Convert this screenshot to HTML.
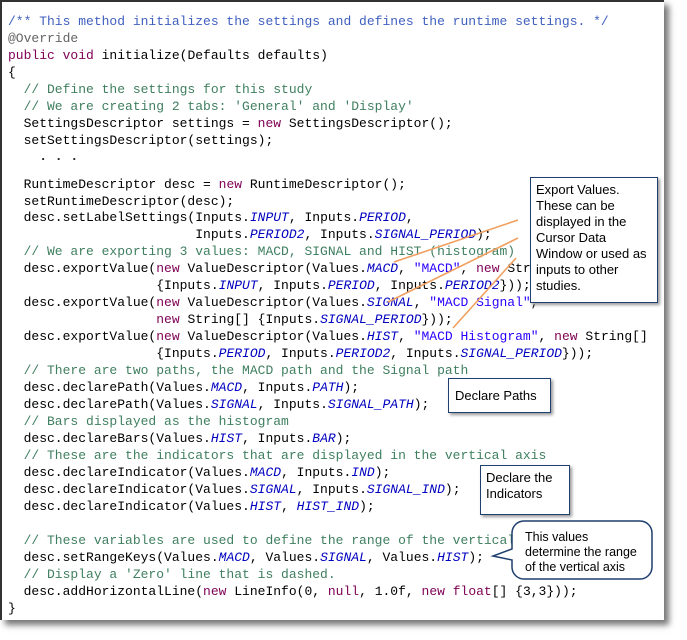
<!DOCTYPE html>
<html><head><style>
body{margin:0;width:687px;height:640px;background:#fff;overflow:hidden;position:relative;font-family:"Liberation Mono",monospace}
#page{position:absolute;left:0;top:0;width:662px;height:618px;background:#fff;border-left:2px solid #333;border-top:2px solid #333;box-shadow:5px 5px 6px #777;overflow:hidden}
.l{position:absolute;left:6px;font-size:13px;line-height:17px;white-space:pre;color:#000}
.c{color:#3f7f5f}.j{color:#3f5fbf}.k{color:#7f0055}.a{color:#646464}.i{color:#0000c0;font-style:italic}.s{color:#2a00ff}
.box{position:absolute;background:#fff;border:1px solid #1f3f6f;font-family:"Liberation Sans",sans-serif;font-size:13px;line-height:16px;color:#000;padding:4px 4px;box-shadow:2px 2px 3px #999}
</style></head><body>
<div id="page">
<div class="l j" style="top:11px">/** This method initializes the settings and defines the runtime settings. */</div>
<div class="l a" style="top:28px">@Override</div>
<div class="l" style="top:45px"><span class="k">public void</span> initialize(Defaults defaults)</div>
<div class="l" style="top:62px">{</div>
<div class="l c" style="top:79px">  // Define the settings for this study</div>
<div class="l c" style="top:96px">  // We are creating 2 tabs: 'General' and 'Display'</div>
<div class="l" style="top:113px">  SettingsDescriptor settings = <span class="k">new</span> SettingsDescriptor();</div>
<div class="l" style="top:130px">  setSettingsDescriptor(settings);</div>
<div class="l" style="top:146px;font-weight:bold;color:#222">    . . .</div>
<div class="l" style="top:174px">  RuntimeDescriptor desc = <span class="k">new</span> RuntimeDescriptor();</div>
<div class="l" style="top:191px">  setRuntimeDescriptor(desc);</div>
<div class="l" style="top:207px">  desc.setLabelSettings(Inputs.<span class="i">INPUT</span>, Inputs.<span class="i">PERIOD</span>,</div>
<div class="l" style="top:224px">                        Inputs.<span class="i">PERIOD2</span>, Inputs.<span class="i">SIGNAL_PERIOD</span>);</div>
<div class="l c" style="top:241px">  // We are exporting 3 values: MACD, SIGNAL and HIST (histogram)</div>
<div class="l" style="top:258px">  desc.exportValue(<span class="k">new</span> ValueDescriptor(Values.<span class="i">MACD</span>, <span class="s">"MACD"</span>, <span class="k">new</span> String[]</div>
<div class="l" style="top:275px">                   {Inputs.<span class="i">INPUT</span>, Inputs.<span class="i">PERIOD</span>, Inputs.<span class="i">PERIOD2</span>}));</div>
<div class="l" style="top:292px">  desc.exportValue(<span class="k">new</span> ValueDescriptor(Values.<span class="i">SIGNAL</span>, <span class="s">"MACD Signal"</span>,</div>
<div class="l" style="top:309px">                   <span class="k">new</span> String[] {Inputs.<span class="i">SIGNAL_PERIOD</span>}));</div>
<div class="l" style="top:326px">  desc.exportValue(<span class="k">new</span> ValueDescriptor(Values.<span class="i">HIST</span>, <span class="s">"MACD Histogram"</span>, <span class="k">new</span> String[]</div>
<div class="l" style="top:343px">                   {Inputs.<span class="i">PERIOD</span>, Inputs.<span class="i">PERIOD2</span>, Inputs.<span class="i">SIGNAL_PERIOD</span>}));</div>
<div class="l c" style="top:360px">  // There are two paths, the MACD path and the Signal path</div>
<div class="l" style="top:377px">  desc.declarePath(Values.<span class="i">MACD</span>, Inputs.<span class="i">PATH</span>);</div>
<div class="l" style="top:394px">  desc.declarePath(Values.<span class="i">SIGNAL</span>, Inputs.<span class="i">SIGNAL_PATH</span>);</div>
<div class="l c" style="top:411px">  // Bars displayed as the histogram</div>
<div class="l" style="top:428px">  desc.declareBars(Values.<span class="i">HIST</span>, Inputs.<span class="i">BAR</span>);</div>
<div class="l c" style="top:445px">  // These are the indicators that are displayed in the vertical axis</div>
<div class="l" style="top:462px">  desc.declareIndicator(Values.<span class="i">MACD</span>, Inputs.<span class="i">IND</span>);</div>
<div class="l" style="top:479px">  desc.declareIndicator(Values.<span class="i">SIGNAL</span>, Inputs.<span class="i">SIGNAL_IND</span>);</div>
<div class="l" style="top:496px">  desc.declareIndicator(Values.<span class="i">HIST</span>, <span class="i">HIST_IND</span>);</div>
<div class="l c" style="top:530px">  // These variables are used to define the range of the vertical axis</div>
<div class="l" style="top:547px">  desc.setRangeKeys(Values.<span class="i">MACD</span>, Values.<span class="i">SIGNAL</span>, Values.<span class="i">HIST</span>);</div>
<div class="l c" style="top:564px">  // Display a 'Zero' line that is dashed.</div>
<div class="l" style="top:581px">  desc.addHorizontalLine(<span class="k">new</span> LineInfo(0, <span class="k">null</span>, 1.0f, <span class="k">new float</span>[] {3,3}));</div>
<div class="l" style="top:598px">}</div>
</div>
<svg style="position:absolute;left:0;top:0" width="687" height="640">
<g stroke="#f0a060" stroke-width="1.6">
<line x1="518" y1="220" x2="394" y2="262"/>
<line x1="518" y1="238" x2="388" y2="302"/>
<line x1="516" y1="258" x2="453" y2="328"/>
</g>
<path d="M524 521 h116 a12 12 0 0 1 12 12 v34 a12 12 0 0 1 -12 12 h-116 a12 12 0 0 1 -12 -12 v-7 l-19 -4 l19 -7 v-16 a12 12 0 0 1 12 -12z" fill="#fff" stroke="#1f3f6f" stroke-width="1.5"/>
<text font-family="Liberation Sans,sans-serif" font-size="12.5" x="525" y="541">This values</text>
<text font-family="Liberation Sans,sans-serif" font-size="12.5" x="525" y="556">determine the range</text>
<text font-family="Liberation Sans,sans-serif" font-size="12.5" x="525" y="571">of the vertical axis</text>
</svg>
<div class="box" style="left:530px;top:177px;width:119px;height:116px;padding-left:5px;padding-right:2px">Export Values.<br>These can be<br>displayed in the<br>Cursor Data<br>Window or used as<br>inputs to other<br>studies.</div>
<div class="box" style="left:448px;top:378px;width:91px;height:25px;line-height:25px;padding-left:6px">Declare Paths</div>
<div class="box" style="left:480px;top:465px;width:79px;height:40px;padding-left:5px">Declare the<br>Indicators</div>
</body></html>
